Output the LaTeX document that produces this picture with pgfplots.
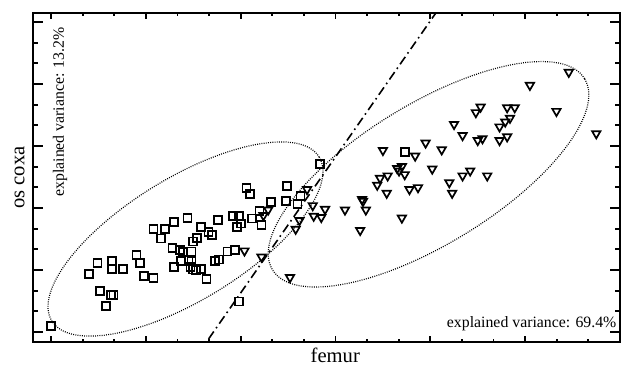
\documentclass[border=0pt]{standalone}
\usepackage{fontspec}
\setmainfont{Liberation Serif}
\usepackage{pgfplots}
\pgfplotsset{compat=1.18}
\begin{document}
\begin{tikzpicture}
\begin{axis}[
  scale only axis,
  width=293.5pt, height=164.5pt,
  xmin=-0.19, xmax=6, ymin=-0.161, ymax=5.145,
  xtick={0,1,2,3,4,5,6}, ytick={0,1,2,3,4,5},
  xticklabels={}, yticklabels={},
  minor x tick num=2, minor y tick num=2,
  tick align=inside,
  xtick pos=both, ytick pos=both,
  axis line style={line width=1pt},
  every tick/.style={black, line width=0.9pt},
  xtick style={/pgfplots/major tick length=3pt, /pgfplots/minor tick length=1.7pt},
  ytick style={/pgfplots/major tick length=5pt, /pgfplots/minor tick length=2.7pt},
  xlabel={femur},
  ylabel={os coxa},
  xlabel style={at={(axis description cs:0.515,-0.0625)}, anchor=base, inner sep=0pt, font=\fontsize{10.3}{12}\selectfont},
  ylabel style={at={(axis description cs:-0.0136,0.5)}, anchor=south, rotate=0, inner sep=0pt, font=\fontsize{10.3}{12}\selectfont},
  clip=true,
]
% squares
\addplot[only marks, mark=square, mark size=2pt, mark options={line width=0.85pt, black}] coordinates {
(0,0.10) (0.40,0.94) (0.49,1.11) (0.64,1.15) (0.64,1.02) (0.76,1.02)
(0.52,0.66) (0.63,0.60) (0.66,0.60) (0.58,0.42) (0.90,1.24) (0.94,1.11)
(0.98,0.90) (1.08,0.87) (1.08,1.66) (1.20,1.66) (1.16,1.51) (1.30,1.77)
(1.44,1.84) (1.28,1.35) (1.36,1.32) (1.39,1.29) (1.48,1.30) (1.50,1.46)
(1.54,1.52) (1.58,1.69) (1.66,1.61) (1.70,1.57) (1.76,1.81) (1.37,1.15)
(1.45,1.17) (1.48,1.15) (1.30,1.05) (1.47,1.05) (1.50,1.01) (1.53,0.99)
(1.58,1.02) (1.64,0.85) (1.73,1.15) (1.77,1.17) (1.86,1.30) (1.94,1.32)
(1.92,1.87) (1.98,1.87) (1.96,1.69) (2.00,1.75) (2.12,1.83) (2.20,1.95)
(2.22,1.73) (2.06,2.32) (2.10,2.23) (2.32,2.10) (2.49,2.35) (2.48,2.11)
(2.60,2.06) (2.63,2.19) (2.84,2.71) (3.73,2.90) (1.98,0.49)
};
% triangles
\addplot[only marks, mark=triangle, mark size=2.4pt, mark options={line width=0.85pt, black, rotate=180}] coordinates {
(5.46,4.19) (5.05,3.98) (5.33,3.56) (5.75,3.20) (4.53,3.63) (4.48,3.54)
(4.81,3.62) (4.89,3.62) (4.84,3.45) (4.79,3.39) (4.73,3.31) (4.81,3.15)
(4.73,3.09) (4.55,3.12) (4.50,3.09) (4.25,3.35) (4.34,3.17) (3.95,3.05)
(4.12,2.94) (3.84,2.84) (3.50,2.93) (4.02,2.63) (4.42,2.60) (4.34,2.52)
(4.60,2.52) (4.20,2.41) (4.23,2.24) (3.78,2.30) (3.87,2.33) (3.70,2.67)
(3.67,2.60) (3.73,2.54) (3.65,2.64) (3.55,2.52) (3.47,2.48) (3.44,2.37)
(3.54,2.24) (3.70,1.84) (3.26,1.64) (3.28,2.14) (3.29,2.11) (3.32,1.97)
(3.10,1.97) (2.85,1.85) (2.77,1.87) (2.89,1.98) (2.76,2.04) (2.70,2.30)
(2.62,1.80) (2.58,1.66) (2.29,1.97) (2.24,1.88) (2.04,1.31) (2.22,1.21)
(2.52,0.88)
};
% regression line
\addplot[black, line width=0.8pt, dash pattern=on 4.5pt off 2pt on 0.8pt off 2pt] coordinates {(1.55,-0.357) (4.15,5.347)};
% confidence ellipses
\draw[black, line width=0.6pt, dash pattern=on 0.45pt off 0.65pt, rotate around={31.5:(axis cs:1.418,1.50)}] (axis cs:1.418,1.50) ellipse [x radius=78.4pt, y radius=30.55pt];
\draw[black, line width=0.6pt, dash pattern=on 0.45pt off 0.65pt, rotate around={31.5:(axis cs:3.981,2.544)}] (axis cs:3.981,2.544) ellipse [x radius=91.5pt, y radius=35pt];
\node[rotate=90, anchor=base west, inner sep=0pt, font=\fontsize{7.9}{9}\selectfont] at (axis description cs:0.0528,0.4407) {explained variance: 13.2\%};
\node[anchor=base east, inner sep=0pt, font=\fontsize{7.9}{9}\selectfont] at (axis description cs:0.9944,0.0447) {explained variance: 69.4\%};
\end{axis}
\pgfresetboundingbox
\path[use as bounding box] ([shift={(-16.5pt,-12pt)}]current axis.south west) rectangle ([shift={(7pt,6.5pt)}]current axis.north east);
\end{tikzpicture}
\end{document}
